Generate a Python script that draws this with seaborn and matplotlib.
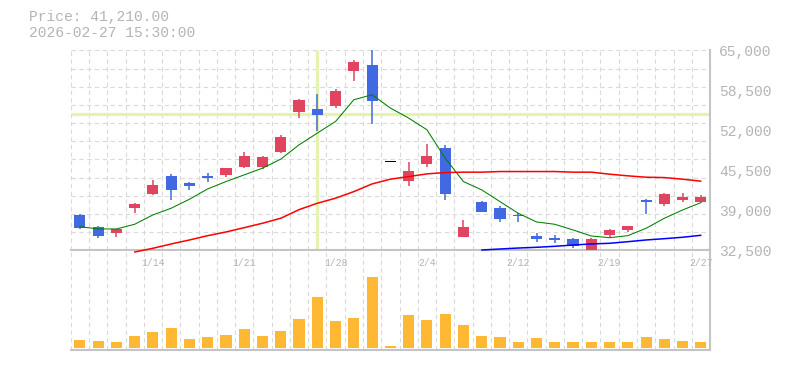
import numpy as np
import pandas as pd
import seaborn as sns
import matplotlib
matplotlib.use("Agg")
import matplotlib.pyplot as plt

# daily candles, 35 trading days (1/7 .. 2/27)
opens = [38250, 36290, 35370, 39440, 41670, 44600, 43460, 44600, 44760, 46060,
         46060, 48500, 55020, 55500, 55990, 61690, 62670, 46830, 43830, 46550,
         49150, 34670, 40410, 39440, 38300, 34830, 34550, 34390, 32550, 35040,
         35850, 40690, 40090, 40740, 40410]
highs = [38360, 36460, 36000, 40200, 43950, 44920, 43620, 45080, 45950, 48500,
         47850, 51270, 57130, 57950, 58760, 63480, 65500, 46830, 46880, 49810,
         49640, 37430, 40580, 39760, 38620, 35320, 35000, 34550, 34450, 36020,
         36460, 40850, 41830, 41830, 41500]
lows = [35970, 34550, 34710, 38620, 41500, 40690, 42320, 43620, 44430, 45900,
        45740, 48340, 54040, 51890, 55670, 60050, 53060, 46830, 42970, 46060,
        40690, 34600, 38780, 37160, 37160, 33900, 33740, 32920, 32500, 34710,
        35530, 38410, 39760, 40410, 40250]
closes = [36180, 34880, 35970, 40040, 43130, 42320, 43020, 44270, 45900, 47850,
          47690, 50950, 56970, 54530, 58430, 63150, 56810, 46830, 45410, 47850,
          41670, 36290, 38780, 37650, 38130, 34390, 34230, 33250, 34290, 35850,
          36460, 40410, 41670, 41180, 41210]
# volume in thousands of shares
volume = [770, 670, 570, 1170, 1570, 1970, 870, 1070, 1270, 1870,
          1170, 1670, 2870, 5070, 2670, 2970, 7070, 170, 3270, 2770,
          3370, 2270, 1170, 1070, 570, 970, 570, 570, 570, 570,
          570, 1070, 870, 670, 570]
ma5 = [36340, 35970, 35970, 36730, 38250, 39340, 40800, 42480, 43670, 44760,
       45850, 47320, 49640, 51550, 53440, 56970, 57780, 55620, 53990, 52090,
       47480, 43670, 42320, 40410, 38520, 37110, 36730, 35810, 34830, 34550,
       34880, 36080, 37710, 39060, 40250]
ma25 = [np.nan, np.nan, np.nan, 32220, 32830, 33530, 34180, 34880, 35480, 36180,
        36900, 37710, 39110, 40150, 40970, 42040, 43290, 44060, 44480, 44920,
        45130, 45200, 45200, 45300, 45300, 45300, 45300, 45200, 45200, 44870,
        44600, 44380, 44320, 44060, 43730]
ma75 = [np.nan] * 22 + [32550, 32710, 32870, 32990, 33150, 33360, 33530, 33640,
                        33900, 34180, 34390, 34620, 34940]

tick_pos = [4, 9, 14, 19, 24, 29, 34]
tick_labels = ["1/14", "1/21", "1/28", "2/4", "2/12", "2/19", "2/27"]
cross_idx = 13
cross_price = 54600
timestamp = "2026-02-27 15:30:00"

df = pd.DataFrame({"open": opens, "high": highs, "low": lows, "close": closes,
                   "vol": volume, "ma5": ma5, "ma25": ma25, "ma75": ma75})
df["idx"] = np.arange(len(df))

RED = "#e0445f"
BLUE = "#4169e1"
TXT = "#b4b4b4"
GRID = "#dadada"
SPINE = "#c4c4c4"

sns.set_style("white")
plt.rcParams["font.family"] = ["Liberation Mono", "DejaVu Sans Mono"]

fig = plt.figure(figsize=(7.85, 3.7), dpi=100)
ax = fig.add_axes([0.0901, 0.3235, 0.8144, 0.5405])
axv = fig.add_axes([0.0901, 0.0541, 0.8144, 0.2695])
ax.set_zorder(2)
ax.patch.set_visible(False)

# price panel
colors = np.where(df["close"] > df["open"], RED,
                  np.where(df["close"] < df["open"], BLUE, "black"))
body_lo = df[["open", "close"]].min(axis=1)
body_h = (df["close"] - df["open"]).abs().clip(lower=180)

ax.axhline(cross_price, color="#e4f4b0", lw=2.3, zorder=1.5)
ax.vlines(cross_idx, 32650, 65000, color="#e4f4b0", lw=2.3, zorder=1.5)
ax.vlines(df["idx"], df["low"], df["high"], colors=colors, lw=1.1, zorder=3)
ax.bar(df["idx"], body_h, bottom=body_lo, width=0.61, color=colors, lw=0, zorder=4)

sns.lineplot(data=df, x="idx", y="ma5", ax=ax, color="#008000", lw=0.75,
             errorbar=None, zorder=5)
sns.lineplot(data=df, x="idx", y="ma25", ax=ax, color="#ff0000", lw=1.1,
             errorbar=None, zorder=5, clip_on=False)
sns.lineplot(data=df, x="idx", y="ma75", ax=ax, color="#0000ff", lw=1.1,
             errorbar=None, zorder=5, clip_on=False)
ax.set_xlabel("")
ax.set_ylabel("")

ax.set_xlim(-0.5, 34.5)
ax.set_ylim(32500, 65000)
ax.yaxis.tick_right()
ax.yaxis.remove_overlapping_locs = False
ax.set_yticks(np.arange(32500, 65001, 6500))
ax.set_yticklabels([f"{v:,}" for v in np.arange(32500, 65001, 6500)])
ax.set_yticks(np.linspace(32500, 65000, 12), minor=True)
ax.set_xticks(tick_pos)
ax.set_xticklabels(tick_labels)
ax.set_xticks(np.arange(-0.5, 35, 1), minor=True)
ax.grid(False)
ax.grid(which="minor", color=GRID, ls=(0, (4, 3)), lw=0.8)
ax.tick_params(which="both", length=0)
ax.tick_params(axis="y", pad=6.5, labelsize=10.5, labelcolor=TXT)
ax.tick_params(axis="x", pad=5.5, labelsize=7, labelcolor=TXT)
for s in ["left", "top"]:
    ax.spines[s].set_visible(False)
for s in ["right", "bottom"]:
    ax.spines[s].set_color(SPINE)
    ax.spines[s].set_linewidth(1.5)

# volume panel
sns.barplot(data=df, x="idx", y="vol", ax=axv, native_scale=True, width=0.61,
            color="#ffb833", saturation=1, errorbar=None, linewidth=0)
axv.set_xlabel("")
axv.set_ylabel("")
axv.set_xlim(-0.5, 34.5)
axv.set_ylim(-230, 9740)
axv.set_xticks([])
axv.set_yticks([])
axv.set_xticks(np.arange(-0.5, 35, 1), minor=True)
axv.grid(False)
axv.grid(which="minor", axis="x", color=GRID, ls=(0, (4, 3)), lw=0.8)
axv.tick_params(which="both", length=0)
for s in ["left", "top"]:
    axv.spines[s].set_visible(False)
for s in ["right", "bottom"]:
    axv.spines[s].set_color(SPINE)
    axv.spines[s].set_linewidth(1.5)

fig.text(29 / 785, 1 - 17 / 370, f"Price: {closes[-1]:,.2f}", color=TXT,
         fontsize=10.5, va="center")
fig.text(29 / 785, 1 - 33 / 370, timestamp, color=TXT, fontsize=10.5, va="center")

fig.savefig("out.png", dpi=100)
